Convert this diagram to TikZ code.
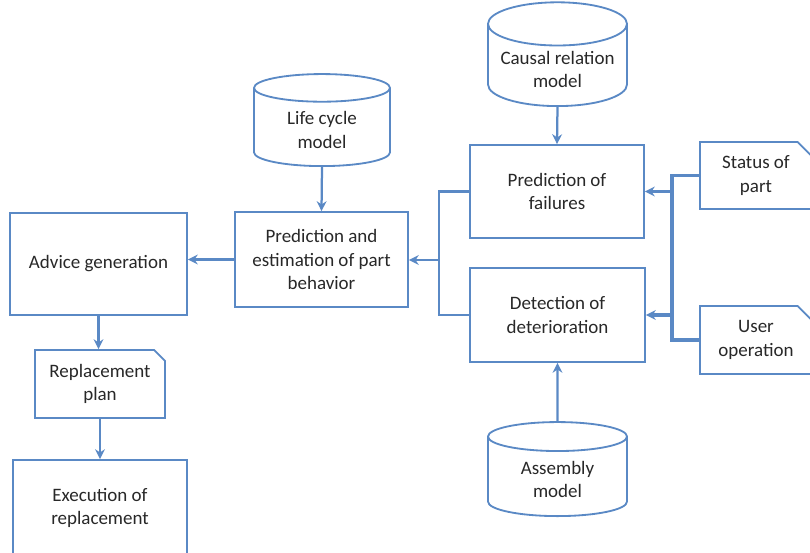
\documentclass[tikz,border=0pt]{standalone}
\usepackage{fontspec}
\setmainfont{Carlito}
\usetikzlibrary{arrows.meta,shapes.geometric,shapes.misc}
\definecolor{lineblue}{RGB}{90,137,197}
\definecolor{textgray}{RGB}{40,40,40}
\tikzset{
	box/.style={draw=lineblue, line width=1.3pt, fill=white, align=center, text=textgray, font=\fontsize{13.5}{16.5}\selectfont},
	datastore/.style={box, cylinder, shape border rotate=90, aspect=0.35, anchor=south},
	document/.style={box, chamfered rectangle, chamfered rectangle corners=north east},
	conn/.style={draw=lineblue, line width=1.6pt, -{Stealth[length=7pt,width=7pt]}},
	link/.style={draw=lineblue, line width=1.6pt},
	bus/.style={draw=lineblue, line width=2.6pt},
}
\begin{document}
\begin{tikzpicture}[x=0.025cm, y=-0.025cm]
	
	\useasboundingbox (0,0) rectangle (810,553);
	\clip (0,0) rectangle (810,553);
	
	% processes
	\node[box, minimum width=4.425cm, minimum height=2.55cm] (advice) at (98.5,264) {Advice generation};
	\node[box, minimum width=4.325cm, minimum height=2.375cm] (predest) at (321.5,259.5) {Prediction and\\estimation of part\\behavior};
	\node[box, minimum width=4.35cm, minimum height=2.325cm] (predfail) at (557,191.5) {Prediction of\\failures};
	\node[box, minimum width=4.375cm, minimum height=2.35cm] (detect) at (557.5,315) {Detection of\\deterioration};
	\node[box, minimum width=4.35cm, minimum height=2.4cm] (exec) at (100,508) {Execution of\\replacement};
	
	% models (placed by their bottom)
	\node[datastore, minimum width=3.4cm, minimum height=2.3cm] (lifecycle) at (322,167) {Life cycle\\model};
	\node[datastore, minimum width=3.475cm, minimum height=2.4cm] (causal) at (557.5,107) {Causal relation\\model};
	\node[datastore, minimum width=3.475cm, minimum height=2.35cm] (assembly) at (557.5,517) {Assembly\\model};
	
	% documents
	\node[document, chamfered rectangle xsep=0.25cm, minimum width=2.8cm, minimum height=1.675cm] (status) at (756,175.5) {Status of\\part};
	\node[document, chamfered rectangle xsep=0.25cm, minimum width=2.8cm, minimum height=1.7cm] (userop) at (756,340) {User\\operation};
	\node[document, chamfered rectangle xsep=0.16cm, minimum width=3.25cm, minimum height=1.7cm] (replplan) at (100,384) {Replacement\\plan};
	
	\coordinate (merge) at (439,260);
	\coordinate (bus) at (672,0);
	
	% connectors
	\draw[conn] (lifecycle.south) -- (predest.north);
	\draw[conn] (causal.south) -- (predfail.north);
	\draw[conn] (assembly.north) -- (detect.south);
	\draw[link] (predfail.west) -| (merge) |- (detect.west);
	\draw[conn] (merge) -- (merge -| predest.east);
	\draw[conn] (predest.west) -- (predest.west -| advice.east);
	\draw[conn] (advice.south) -- (advice.south |- replplan.north);
	\draw[conn] (replplan.south) -- (replplan.south |- exec.north);
	
	\draw[bus] (status.west) -- (status.west -| bus) -- (userop.west -| bus) -- (userop.west);
	\draw[conn, line width=2.4pt] (predfail.east -| bus) -- (predfail.east);
	\draw[conn, line width=2.4pt] (detect.east -| bus) -- (detect.east);
	
\end{tikzpicture}
\end{document}
